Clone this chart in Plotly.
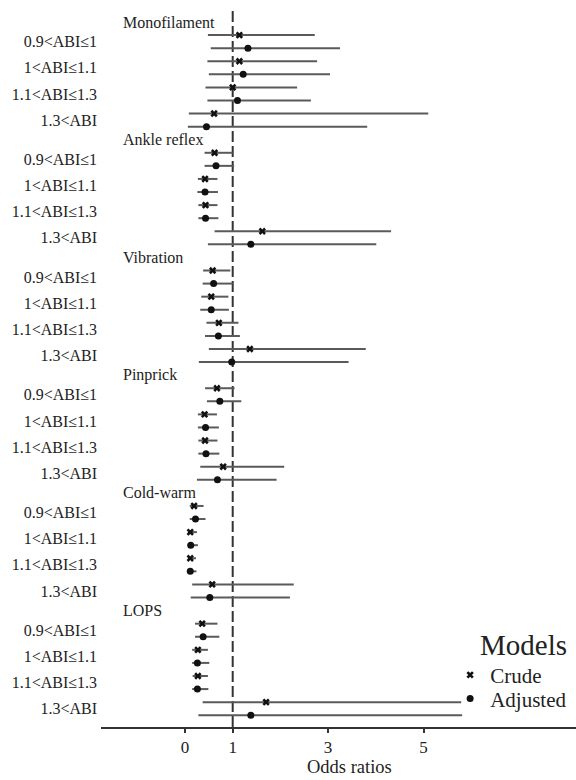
import plotly.graph_objects as go

groups = ["Monofilament", "Ankle reflex", "Vibration", "Pinprick", "Cold-warm", "LOPS"]
categories = ["0.9<ABI≤1", "1<ABI≤1.1", "1.1<ABI≤1.3", "1.3<ABI"]
x_ticks = [0, 1, 3, 5]

# Crude odds ratios and 95% CI (rows = groups, cols = categories)
crude_or = [[1.14, 1.14, 1.00, 0.61],
            [0.62, 0.42, 0.43, 1.62],
            [0.58, 0.55, 0.71, 1.36],
            [0.67, 0.41, 0.42, 0.80],
            [0.19, 0.11, 0.11, 0.57],
            [0.36, 0.27, 0.27, 1.70]]
crude_lo = [[0.48, 0.47, 0.43, 0.08],
            [0.41, 0.27, 0.28, 0.62],
            [0.38, 0.34, 0.45, 0.50],
            [0.42, 0.27, 0.28, 0.32],
            [0.10, 0.06, 0.06, 0.15],
            [0.21, 0.15, 0.16, 0.37]]
crude_hi = [[2.72, 2.77, 2.35, 5.10],
            [1.00, 0.68, 0.68, 4.32],
            [0.95, 0.91, 1.12, 3.79],
            [1.04, 0.67, 0.68, 2.08],
            [0.39, 0.25, 0.23, 2.28],
            [0.68, 0.48, 0.48, 5.79]]

# Adjusted odds ratios and 95% CI
adj_or = [[1.32, 1.22, 1.10, 0.45],
          [0.65, 0.42, 0.43, 1.38],
          [0.60, 0.55, 0.70, 0.98],
          [0.73, 0.43, 0.44, 0.68],
          [0.22, 0.12, 0.11, 0.52],
          [0.38, 0.26, 0.26, 1.38]]
adj_lo = [[0.54, 0.50, 0.47, 0.06],
          [0.41, 0.26, 0.28, 0.48],
          [0.37, 0.32, 0.42, 0.29],
          [0.46, 0.27, 0.28, 0.25],
          [0.10, 0.06, 0.06, 0.12],
          [0.21, 0.15, 0.15, 0.28]]
adj_hi = [[3.25, 3.04, 2.64, 3.82],
          [1.03, 0.69, 0.70, 4.01],
          [1.00, 0.92, 1.15, 3.43],
          [1.18, 0.71, 0.72, 1.92],
          [0.43, 0.27, 0.24, 2.20],
          [0.72, 0.51, 0.49, 5.81]]

FONT = "Liberation Serif"
TXT = "#222222"
GROUP_ROWS = 9

def ypos(g, c, model):
    return GROUP_ROWS * g + 2 * c + 1 + model

ci_x, ci_y = [], []
cx, cy, ax, ay = [], [], [], []
for g in range(len(groups)):
    for c in range(len(categories)):
        yc = ypos(g, c, 0)
        ya = ypos(g, c, 1)
        ci_x += [crude_lo[g][c], crude_hi[g][c], None, adj_lo[g][c], adj_hi[g][c], None]
        ci_y += [yc, yc, None, ya, ya, None]
        cx.append(crude_or[g][c]); cy.append(yc)
        ax.append(adj_or[g][c]); ay.append(ya)

fig = go.Figure()
fig.add_trace(go.Scatter(x=ci_x, y=ci_y, mode="lines",
                         line=dict(color="#5a5a5a", width=2),
                         showlegend=False, hoverinfo="skip"))
fig.add_trace(go.Scatter(x=cx, y=cy, mode="markers", name="Crude", legend="legend",
                         marker=dict(symbol="x", size=6.5, color="#111111",
                                     line=dict(width=0))))
fig.add_trace(go.Scatter(x=ax, y=ay, mode="markers", name="Adjusted", legend="legend2",
                         marker=dict(symbol="circle", size=7, color="#111111")))

fig.add_shape(type="line", xref="x", yref="paper", x0=1, x1=1, y0=0, y1=1,
              line=dict(color="#333333", width=2, dash="11px,4px"), layer="below")

annotations = []
for g, name in enumerate(groups):
    annotations.append(dict(text=name, xref="paper", yref="y", x=20 / 475,
                            y=GROUP_ROWS * g, xanchor="left", yanchor="middle",
                            showarrow=False, font=dict(family=FONT, size=16, color=TXT)))
annotations.append(dict(text="Models", xref="paper", yref="paper", x=0.794, y=0.114,
                        xanchor="left", yanchor="middle", showarrow=False,
                        font=dict(family=FONT, size=29, color=TXT)))
# x-axis title
annotations.append(dict(text="Odds ratios", xref="x", yref="paper", x=3.45, y=-0.0405,
                        xanchor="center", yanchor="top", showarrow=False, borderpad=0,
                        font=dict(family=FONT, size=18.5, color=TXT)))

tickvals, ticktext = [], []
for g in range(len(groups)):
    for c, cat in enumerate(categories):
        tickvals.append(GROUP_ROWS * g + 2 * c + 1.5)
        ticktext.append(cat)

n_rows = GROUP_ROWS * len(groups)

leg_common = dict(xanchor="left", yanchor="middle", bgcolor="rgba(0,0,0,0)",
                  font=dict(family=FONT, size=21, color=TXT))

fig.update_layout(
    width=576, height=780,
    margin=dict(l=101, r=0, t=8, b=53),
    paper_bgcolor="white", plot_bgcolor="white",
    font=dict(family=FONT, color=TXT),
    annotations=annotations,
    xaxis=dict(range=[-1.761, 8.197], tickvals=x_ticks, ticktext=[str(v) for v in x_ticks],
               showgrid=False, zeroline=False, showline=True, linecolor="#333333",
               linewidth=1.5, ticks="outside", ticklen=4, tickwidth=1.5, tickcolor="#333333",
               tickfont=dict(family=FONT, size=17, color=TXT),
               automargin=False, fixedrange=True),
    yaxis=dict(range=[n_rows - 0.1, -1.07], tickvals=tickvals, ticktext=ticktext,
               showgrid=False, zeroline=False, showline=False, ticks="",
               ticklabelstandoff=3,
               tickfont=dict(family=FONT, size=16, color=TXT), automargin=False,
               fixedrange=True),
    legend=dict(x=0.735, y=0.072, **leg_common),
    legend2=dict(x=0.735, y=0.039, **leg_common),
)

fig.write_html("out.html", config={"displayModeBar": False},
               post_script="document.body.style.margin='0';")
